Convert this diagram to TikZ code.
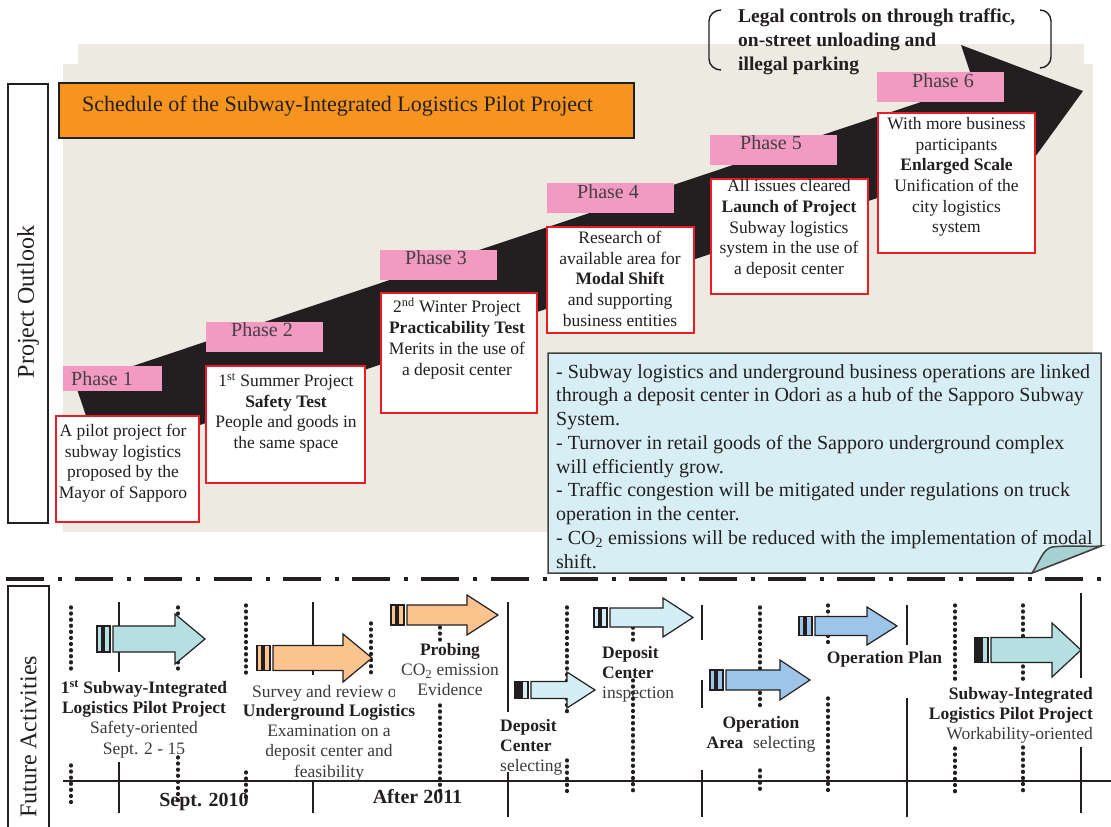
\documentclass[tikz,border=0pt]{standalone}
\usepackage{fontspec}
\setmainfont{Liberation Serif}
\definecolor{ink}{HTML}{231F20}
\definecolor{paper}{HTML}{EDEBE1}
\definecolor{titleorange}{HTML}{F7941D}
\definecolor{phasepink}{HTML}{F29AC2}
\definecolor{boxred}{HTML}{ED1C24}
\definecolor{noteblue}{HTML}{D6EEF4}
\definecolor{notefold}{HTML}{A6D2D4}
\definecolor{actteal}{HTML}{B5DFE1}
\definecolor{peach}{HTML}{FBC48E}
\definecolor{skyblue}{HTML}{D4EEF5}
\definecolor{midblue}{HTML}{9DC5E8}
\definecolor{greytext}{HTML}{3A3A3A}

% block arrow of the activity timeline:
% #1 body fill, #2 first tail fill, #3 body start x, #4 head start x,
% #5 tip x, #6 centre y, #7 shaft half height, #8 head half height
\newcommand\actarrow[8]{%
  \filldraw[arrowline, fill=#2] ({#3-16},{#6-#7}) rectangle ({#3-11},{#6+#7});
  \filldraw[arrowline, fill=#1] ({#3-9},{#6-#7}) rectangle ({#3-3},{#6+#7});
  \filldraw[arrowline, fill=#1] (#3,{#6-#7}) -- (#4,{#6-#7}) -- (#4,{#6-#8})
    -- (#5,#6) -- (#4,{#6+#8}) -- (#4,{#6+#7}) -- (#3,{#6+#7}) -- cycle;
}

\tikzset{
  frame/.style={draw=ink, line width=1.5pt},
  redbox/.style={draw=boxred, line width=1.6pt, fill=white},
  boxtxt/.style={font=\fontsize{17.5}{20.7}\selectfont, align=center, inner sep=0pt, text=ink, anchor=north},
  phasetxt/.style={font=\fontsize{20}{24}\selectfont, text=ink!85, inner sep=0pt},
  vtxt/.style={font=\fontsize{24}{28}\selectfont, text=ink, inner sep=0pt, rotate=90},
  acttxt/.style={font=\fontsize{17.5}{20.3}\selectfont, inner sep=0pt, text=greytext},
  datetxt/.style={font=\bfseries\fontsize{20}{24}\selectfont, inner sep=0pt, text=ink},
  arrowline/.style={draw=ink, line width=1.2pt, line join=miter},
  tickline/.style={draw=ink, line width=1.2pt},
  dotline/.style={draw=ink, line width=3.4pt, line cap=round, dash pattern=on 0.9pt off 5.2pt},
}

\begin{document}
\begin{tikzpicture}[x=1pt,y=-1pt]
\useasboundingbox (0,0) rectangle (1111,827);

% ---------- project outlook panel ----------
\fill[paper] (78,44) rectangle (1084,532);
\fill[paper] (63,64) rectangle (1093,532);

\draw[frame] (8,84) rectangle (48,523);
\node[vtxt] (outlook) at (28,302) {Project Outlook};

\filldraw[frame, fill=titleorange] (59,83) rectangle (634,138);
\node[anchor=west, inner sep=0pt, text=ink, font=\fontsize{22}{26}\selectfont]
  (title) at (82,106) {Schedule of the Subway-Integrated Logistics Pilot Project};

% the rising black arrow
\fill[ink] (75.7,385.2) -- (974.1,84.2) -- (961,45) -- (1083,91)
  -- (1010,191.4) -- (998.6,157.4) -- (100.3,458.4) -- cycle;

% bracketed note above the arrow head
\draw[ink, line width=1.4pt] (721,10) to[out=180,in=90] (709,21) -- (709,59) to[out=-90,in=180] (721,70);
\draw[ink, line width=1.4pt] (1040,10) to[out=0,in=90] (1051,21) -- (1051,57) to[out=-90,in=0] (1040,68);
\node[anchor=north west, align=left, inner sep=0pt, text=ink,
  font=\bfseries\fontsize{19.5}{24}\selectfont] (legal) at (738,8.5)
  {Legal controls on through traffic,\\on-street unloading and\\illegal parking};

% phase labels
\fill[phasepink] (63,366) rectangle (162,391);
\node[phasetxt] (ph1) at (102,378.5) {Phase 1};
\fill[phasepink] (206,322) rectangle (323,352);
\node[phasetxt] (ph2) at (262,330) {Phase 2};
\fill[phasepink] (380,250) rectangle (497,280);
\node[phasetxt] (ph3) at (436,258) {Phase 3};
\fill[phasepink] (547,183) rectangle (674,213);
\node[phasetxt] (ph4) at (608,192) {Phase 4};
\fill[phasepink] (710,135) rectangle (837,165);
\node[phasetxt] (ph5) at (771,143) {Phase 5};
\fill[phasepink] (877,72) rectangle (1004,102);
\node[phasetxt] (ph6) at (943,81) {Phase 6};

% phase boxes
\filldraw[redbox] (56,416) rectangle (199,522);
\node[boxtxt] (b1) at (123,424) {A pilot project for\\subway logistics\\proposed by the\\Mayor of Sapporo};
\filldraw[redbox] (206,366) rectangle (365,483);
\node[boxtxt] (b2) at (286,373) {1\textsuperscript{st} Summer Project\\\textbf{Safety Test}\\People and goods in\\the same space};
\filldraw[redbox] (381,293) rectangle (537,413);
\node[boxtxt] (b3) at (457,298) {2\textsuperscript{nd} Winter Project\\\textbf{Practicability Test}\\Merits in the use of\\a deposit center};
\filldraw[redbox] (547,227) rectangle (694,333);
\node[boxtxt] (b4) at (620,231) {Research of\\available area for\\\textbf{Modal Shift}\\and supporting\\business entities};
\filldraw[redbox] (711,179) rectangle (868,294);
\node[boxtxt] (b5) at (789,179.5) {All issues cleared\\\textbf{Launch of Project}\\Subway logistics\\system in the use of\\a deposit center};
\filldraw[redbox] (878,113) rectangle (1035,253);
\node[boxtxt] (b6) at (956.5,117) {With more business\\participants\\\textbf{Enlarged Scale}\\Unification of the\\city logistics\\system};

% folded note
\filldraw[fill=noteblue, draw=ink!85, line width=1.5pt]
  (548,353) -- (1101,353) -- (1101,546) -- (1032,573) -- (548,573) -- cycle;
\filldraw[fill=notefold, draw=ink!85, line width=1.5pt]
  (1032,573) .. controls (1040,561) and (1043,549) .. (1052,547)
  .. controls (1070,545) and (1090,547) .. (1101,546) -- cycle;
\node[anchor=north west, align=left, inner sep=0pt, text=ink,
  font=\fontsize{20}{23.75}\selectfont] (note) at (556,364)
  {- Subway logistics and underground business operations are linked\\
   through a deposit center in Odori as a hub of the Sapporo Subway\\
   System.\\
   - Turnover in retail goods of the Sapporo underground complex\\
   will efficiently grow.\\
   - Traffic congestion will be mitigated under regulations on truck\\
   operation in the center.\\
   - CO\textsubscript{2} emissions will be reduced with the implementation of modal\\
   shift.};

% ---------- separator ----------
\draw[ink, line width=4.5pt, dash pattern=on 38pt off 14pt on 4pt off 13.3pt] (5.6,579) -- (1102,579);

% ---------- future activities panel ----------
\draw[frame] (8,586) rectangle (49,840);
\node[vtxt] (future) at (28.5,737) {Future Activities};

\draw[tickline] (63,781) -- (1111,781);
\foreach \x/\a/\b in {119/602/672, 119/762/813, 313/602/675, 313/780/813,
  508/602/712, 508/772/817, 702/605/640, 702/680/708, 702/770/817,
  907/605/645, 907/698/817, 1081/593/678, 1081/747/813}
  \draw[tickline] (\x,\a) -- (\x,\b);
\foreach \x/\a/\b in {71/607/671, 71/765/803, 178/607/671, 178/757/803,
  246/605/675, 246/772/800, 371/623/675, 440/627/640, 440/705/793,
  567/607/712, 567/760/792, 633/615/640, 633/680/792, 760/607/707,
  760/770/792, 828/605/643, 828/698/792, 955/605/680, 955/748/793,
  1023/605/680, 1023/747/792}
  \draw[dotline] (\x,\a) -- (\x,\b);

\actarrow{actteal}{actteal}{113}{175}{205}{639}{13}{25}
\actarrow{peach}{peach}{273}{343}{372}{658}{12.5}{24}
\actarrow{peach}{peach}{407}{467}{498}{615}{10}{20}
\actarrow{skyblue}{ink}{531}{567}{595}{690}{8.5}{18}
\actarrow{skyblue}{skyblue}{610}{663}{693}{617.5}{9.5}{19.5}
\actarrow{midblue}{midblue}{726}{780}{810}{680}{10}{20}
\actarrow{midblue}{midblue}{815}{867}{897}{626}{9.5}{19}
\actarrow{actteal}{ink}{991}{1052}{1081}{650}{12.5}{27}

\node[acttxt, align=center, anchor=north] (a1) at (144,680)
  {\textcolor{ink}{\textbf{1\textsuperscript{st} Subway-Integrated}}\\\textcolor{ink}{\textbf{Logistics Pilot Project}}\\Safety-oriented\\Sept. 2 - 15};
\begin{scope}
  \clip (240,675) rectangle (394,702);
  \node[acttxt, anchor=north west] (a2a) at (252,685) {Survey and review of};
\end{scope}
\node[acttxt, align=center, anchor=north] (a2b) at (329,704)
  {\textcolor{ink}{\textbf{Underground Logistics}}\\Examination on a\\deposit center and\\feasibility};
\node[acttxt, align=center, anchor=north] (a3) at (450,643)
  {\textcolor{ink}{\textbf{Probing}}\\CO\textsubscript{2} emission\\Evidence};
\node[acttxt, align=left, anchor=north west] (a4) at (500,719)
  {\textcolor{ink}{\textbf{Deposit}}\\\textcolor{ink}{\textbf{Center}}\\selecting};
\node[acttxt, align=left, anchor=north west] (a5) at (602,646)
  {\textcolor{ink}{\textbf{Deposit}}\\\textcolor{ink}{\textbf{Center}}\\inspection};
\node[acttxt, align=center, anchor=north] (a6) at (761,716)
  {\textcolor{ink}{\textbf{Operation}}\\\textcolor{ink}{\textbf{Area}}\hspace{5.5pt} selecting};
\node[acttxt, text=ink, font=\bfseries\fontsize{17.5}{20.3}\selectfont] (a7) at (884.5,659) {Operation Plan};
\node[acttxt, align=right, anchor=north east] (a8) at (1093,687)
  {\textcolor{ink}{\textbf{Subway-Integrated}}\\\textcolor{ink}{\textbf{Logistics Pilot Project}}\\Workability-oriented};

\node[datetxt] (d2010) at (204,802) {Sept. 2010};
\node[datetxt] (d2011) at (417.5,797) {After 2011};
\end{tikzpicture}
\end{document}
